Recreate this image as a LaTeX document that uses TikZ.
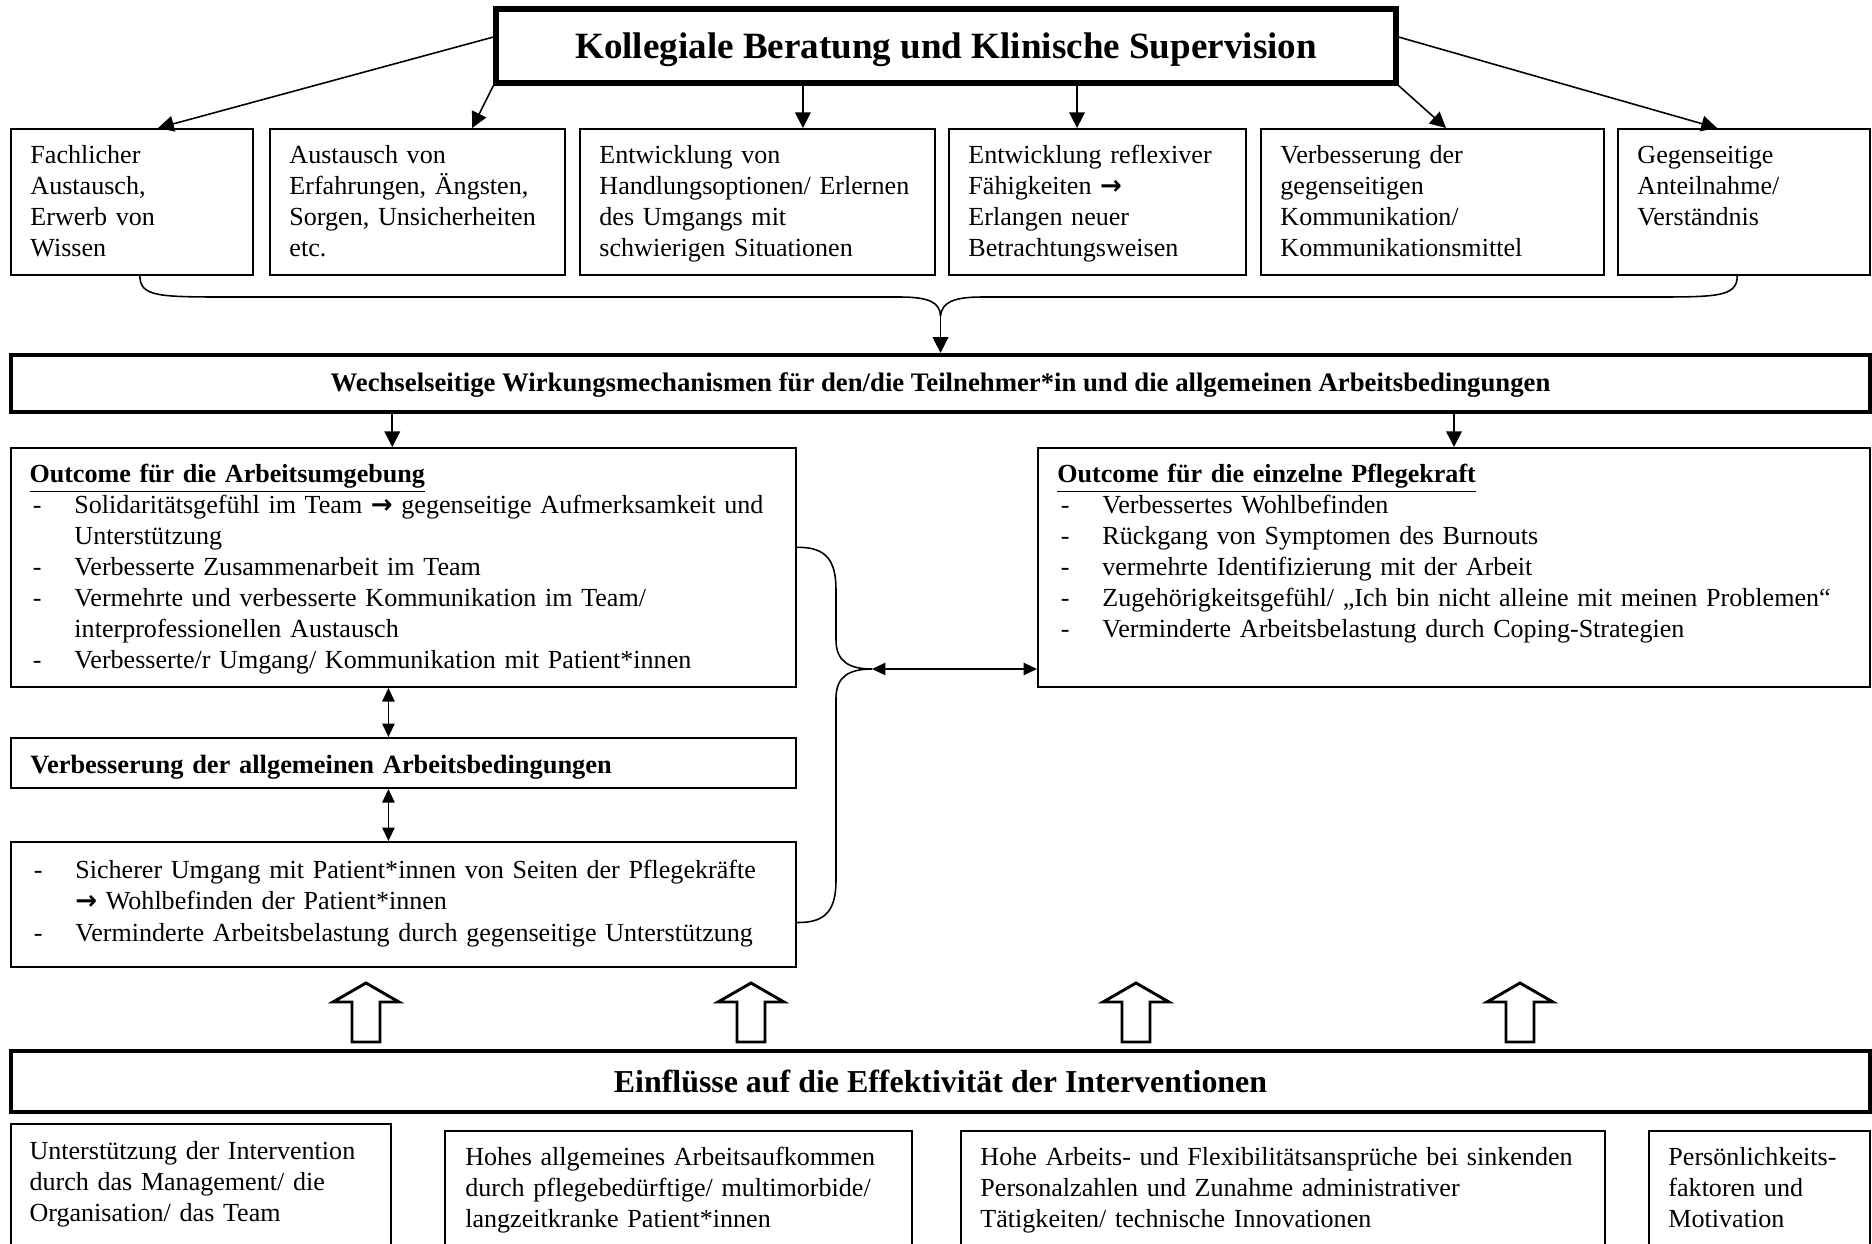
\documentclass[tikz,border=0pt]{standalone}
\usepackage{fontspec}
\setmainfont{Liberation Serif}
\newfontfamily\pfeilschrift{DejaVu Sans}
\usepackage{tikz}
\usetikzlibrary{arrows.meta,positioning,fit,calc}

\newcommand{\zpfeil}{{\pfeilschrift\bfseries\symbol{"2192}}}
\newcommand{\strichanfang}{\noindent\hangindent=20pt\hangafter=1\makebox[20pt][l]{\hspace{1.5pt}-}}
\newcommand{\strich}{\par\strichanfang}

\tikzset{
  kasten/.style={draw, line width=0.9pt, inner sep=0pt},
  dickkasten/.style={draw, line width=1.9pt, inner sep=0pt},
  txt/.style={anchor=base west, inner sep=0pt, align=left, text width=#1},
  linie/.style={line width=0.7pt},
  pfeil/.style={linie, -{Triangle[length=7pt,width=7pt]}},
  doppelpfeil/.style={linie, {Triangle[length=6pt,width=5.5pt]}-{Triangle[length=6pt,width=5.5pt]}},
  hohlpfeil/.style={draw, line width=1.3pt, line join=miter}
}

\begin{document}
\begin{tikzpicture}[x=0.445pt, y=-0.445pt, font=\fontsize{11.6}{13.8}\selectfont]
\useasboundingbox (0,0) rectangle (1872,1243);
\clip (0,0) rectangle (1872,1243);

% Kopf
\node[dickkasten, line width=2.3pt, fit={(496,9)(1396,83)}] (titel) {};
\node[font=\fontsize{16.5}{19}\selectfont\bfseries] (titelt) at ([yshift=-1.6pt]titel.center) {Kollegiale Beratung und Klinische Supervision};

% Wirkfaktoren
\foreach \n/\xa/\xb in {1/11/253, 2/270/565, 3/580/935, 4/949/1246, 5/1261/1604, 6/1618/1870}{
  \node[kasten, fit={(\xa,129)(\xb,275)}] (f\n) {};
}
\node[txt=200pt] (f1t) at ([xshift=8.9pt,yshift=-15.8pt]f1.north west) {Fachlicher\\Austausch,\\Erwerb von\\Wissen};
\node[txt=200pt] (f2t) at ([xshift=8.9pt,yshift=-15.8pt]f2.north west) {Austausch von\\Erfahrungen, Ängsten,\\Sorgen, Unsicherheiten\\etc.};
\node[txt=200pt] (f3t) at ([xshift=8.9pt,yshift=-15.8pt]f3.north west) {Entwicklung von\\Handlungsoptionen/ Erlernen\\des Umgangs mit\\schwierigen Situationen};
\node[txt=200pt] (f4t) at ([xshift=8.9pt,yshift=-15.8pt]f4.north west) {Entwicklung reflexiver\\Fähigkeiten \zpfeil\\Erlangen neuer\\Betrachtungsweisen};
\node[txt=200pt] (f5t) at ([xshift=8.9pt,yshift=-15.8pt]f5.north west) {Verbesserung der\\gegenseitigen\\Kommunikation/\\Kommunikationsmittel};
\node[txt=200pt] (f6t) at ([xshift=8.9pt,yshift=-15.8pt]f6.north west) {Gegenseitige\\Anteilnahme/\\Verständnis};

\draw[pfeil] ([yshift=4pt]titel.west) -- ([xshift=11.6pt]f1.north);
\draw[pfeil] (titel.south west) -- ([xshift=24.3pt]f2.north);
\coordinate (z3) at ([xshift=20.2pt]f3.north);
\draw[pfeil] (z3 |- titel.south) -- (z3);
\coordinate (z4) at ([xshift=-9.1pt]f4.north);
\draw[pfeil] (z4 |- titel.south) -- (z4);
\draw[pfeil] (titel.south east) -- ([xshift=6pt]f5.north);
\draw[pfeil] ([yshift=4pt]titel.east) -- ([xshift=-12pt]f6.north);

% Wirkungsmechanismen
\node[dickkasten, fit={(11,355)(1870,412)}] (wm) {};
\node[font=\fontsize{11.9}{14}\selectfont\bfseries] (wmt) at ([yshift=-0.5pt]wm.center) {Wechselseitige Wirkungsmechanismen für den/die Teilnehmer*in und die allgemeinen Arbeitsbedingungen};
\coordinate (knoten) at ([yshift=16.5pt]wm.north);
\draw[linie] ([xshift=3.5pt]f1.south) .. controls (140,297) and (160,297) .. (230,297) -- (900,297)
  .. controls (930,297) and (940,303) .. (knoten);
\draw[linie] ([xshift=-3pt]f6.south) .. controls (1737,297) and (1717,297) .. (1650,297) -- (982,297)
  .. controls (952,297) and (942,303) .. (knoten);
\draw[pfeil] (knoten) -- (wm.north);

% Outcome
\node[kasten, fit={(11,448)(796,687)}] (ol) {};
\node[kasten, fit={(1038,448)(1870,687)}] (or) {};
\node[kasten, fit={(11,738)(796,788)}] (vb) {};
\node[kasten, fit={(11,842)(796,967)}] (ub) {};

\node[txt=380pt] (olt) at ([xshift=8.5pt,yshift=-15.8pt]ol.north west) {\textbf{\underline{Outcome für die Arbeitsumgebung}}\strich Solidaritätsgefühl im Team \zpfeil{} gegenseitige Aufmerksamkeit und\newline Unterstützung\strich Verbesserte Zusammenarbeit im Team\strich Vermehrte und verbesserte Kommunikation im Team/\newline interprofessionellen Austausch\strich Verbesserte/r Umgang/ Kommunikation mit Patient*innen};
\node[txt=400pt] (ort) at ([xshift=8.9pt,yshift=-15.8pt]or.north west) {\textbf{\underline{Outcome für die einzelne Pflegekraft}}\strich Verbessertes Wohlbefinden\strich Rückgang von Symptomen des Burnouts\strich vermehrte Identifizierung mit der Arbeit\strich Zugehörigkeitsgefühl/ „Ich bin nicht alleine mit meinen Problemen“\strich Verminderte Arbeitsbelastung durch Coping-Strategien};
\node[txt=380pt, font=\fontsize{11.75}{13.8}\selectfont\bfseries] (vbt) at ([xshift=8.9pt,yshift=-16.3pt]vb.north west) {Verbesserung der allgemeinen Arbeitsbedingungen};
\node[txt=380pt] (ubt) at ([xshift=8.9pt,yshift=-16.9pt]ub.north west) {\strichanfang Sicherer Umgang mit Patient*innen von Seiten der Pflegekräfte\newline \zpfeil{} Wohlbefinden der Patient*innen\strich Verminderte Arbeitsbelastung durch gegenseitige Unterstützung};

\coordinate (a1) at ([xshift=-5pt]ol.north);
\draw[pfeil] (a1 |- wm.south) -- (a1);
\draw[pfeil] (or.north |- wm.south) -- (or.north);
\draw[doppelpfeil] ([xshift=-6.7pt]ol.south) -- ([xshift=-6.7pt]vb.north);
\draw[doppelpfeil] ([xshift=-6.7pt]vb.south) -- ([xshift=-6.7pt]ub.north);

\coordinate (spitze) at (872,669);
\draw[linie] ([yshift=9pt]ol.east) .. controls (826,547) and (836,560) .. (836,590) -- (836,640)
  .. controls (836,662) and (850,669) .. (spitze);
\draw[linie] ([yshift=-8pt]ub.east) .. controls (826,923) and (836,910) .. (836,880) -- (836,698)
  .. controls (836,676) and (850,669) .. (spitze);
\draw[doppelpfeil] (spitze) -- (spitze -| or.west);

% Einfluesse
\foreach \x in {366, 751, 1136, 1520}{
  \draw[hohlpfeil] (\x,983) -- (\x+33,1002) -- (\x+14,1002) -- (\x+14,1042) -- (\x-14,1042)
    -- (\x-14,1002) -- (\x-33,1002) -- cycle;
}
\node[dickkasten, fit={(11,1051)(1870,1112)}] (ein) {};
\node[font=\fontsize{14.2}{17}\selectfont\bfseries] (eint) at (ein.center) {Einflüsse auf die Effektivität der Interventionen};

\foreach \n/\xa/\ya/\xb in {1/11/1124/391, 2/445/1131/912, 3/961/1131/1605, 4/1649/1131/1870}{
  \node[kasten, fit={(\xa,\ya)(\xb,1275)}] (e\n) {};
}
\node[txt=300pt] (e1t) at ([xshift=8.5pt,yshift=-16.1pt]e1.north west) {Unterstützung der Intervention\\durch das Management/ die\\Organisation/ das Team};
\node[txt=300pt] (e2t) at ([xshift=9.3pt,yshift=-15.8pt]e2.north west) {Hohes allgemeines Arbeitsaufkommen\\durch pflegebedürftige/ multimorbide/\\langzeitkranke Patient*innen};
\node[txt=300pt] (e3t) at ([xshift=8.9pt,yshift=-15.8pt]e3.north west) {Hohe Arbeits- und Flexibilitätsansprüche bei sinkenden\\Personalzahlen und Zunahme administrativer\\Tätigkeiten/ technische Innovationen};
\node[txt=200pt] (e4t) at ([xshift=8.9pt,yshift=-15.8pt]e4.north west) {Persönlichkeits-\\faktoren und\\Motivation};
\end{tikzpicture}
\end{document}
